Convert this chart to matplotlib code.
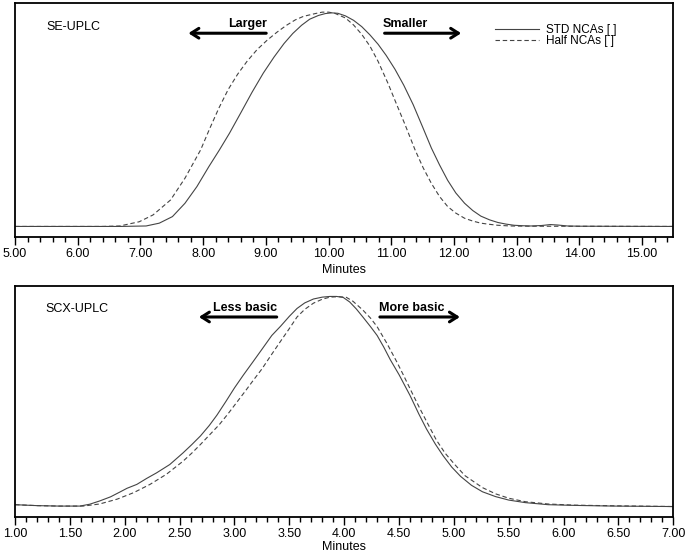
import matplotlib
matplotlib.use("Agg")
import matplotlib.pyplot as plt
from matplotlib.ticker import MultipleLocator, FormatStrFormatter

plt.rcParams['font.family'] = ['Liberation Sans', 'DejaVu Sans']

# SE-UPLC (top panel), signal in % of panel height
se_std_x = [5.0, 6.0, 6.67, 7.09, 7.3, 7.51, 7.71, 7.9, 8.09, 8.26, 8.42, 8.6, 8.78, 8.96,
            9.13, 9.29, 9.43, 9.57, 9.7, 9.84, 9.95, 10.05, 10.15, 10.27, 10.4, 10.53,
            10.66, 10.79, 10.92, 11.06, 11.2, 11.35, 11.5, 11.64, 11.77, 11.9, 12.03,
            12.17, 12.3, 12.43, 12.57, 12.7, 12.83, 12.96, 13.1, 13.23, 13.4, 13.54,
            13.66, 13.81, 14.0, 15.5]
se_std_y = [4.5, 4.5, 4.5, 4.7, 5.9, 8.7, 14.4, 21.5, 30.0, 37.2, 44.3, 53.0, 61.8, 70.0,
            76.8, 82.6, 86.9, 90.4, 93.0, 94.6, 95.4, 95.7, 95.5, 94.4, 92.5, 89.8,
            86.3, 82.3, 77.5, 71.6, 64.8, 56.5, 47.0, 38.0, 30.8, 24.2, 18.8,
            14.4, 11.3, 8.9, 7.3, 6.2, 5.5, 5.0, 4.8, 4.7, 4.9, 5.3,
            5.1, 4.7, 4.6, 4.5]
se_half_x = [5.0, 6.0, 6.4, 6.67, 6.98, 7.2, 7.48, 7.71, 7.96, 8.1, 8.25, 8.4, 8.55, 8.7,
             8.86, 9.02, 9.18, 9.33, 9.47, 9.6, 9.79, 9.9, 10.0, 10.1, 10.27, 10.4, 10.53,
             10.66, 10.79, 10.95, 11.08, 11.22, 11.38, 11.51, 11.64, 11.77, 11.9, 12.03,
             12.17, 12.3, 12.43, 12.57, 12.7, 12.9, 13.2, 15.5]
se_half_y = [4.5, 4.5, 4.5, 4.7, 6.5, 9.4, 15.8, 25.1, 37.2, 46.0, 55.0, 63.0, 69.5, 75.0,
             80.0, 84.0, 87.5, 90.4, 92.7, 94.2, 95.4, 96.0, 96.0, 95.5, 93.5, 90.5, 86.5,
             81.5, 75.0, 65.5, 57.0, 48.0, 37.2, 29.5, 22.9, 17.3, 13.0, 10.2,
             8.0, 6.8, 5.9, 5.4, 5.0, 4.7, 4.6, 4.5]

# SCX-UPLC (bottom panel)
scx_std_x = [1.0, 1.2, 1.4, 1.59, 1.68, 1.77, 1.87, 1.96, 2.02, 2.11, 2.2, 2.29, 2.41, 2.53,
             2.61, 2.69, 2.77, 2.84, 2.92, 3.0, 3.08, 3.17, 3.25, 3.34, 3.42, 3.5, 3.57,
             3.64, 3.72, 3.8, 3.87, 3.93, 3.99, 4.05, 4.11, 4.17, 4.24, 4.3, 4.36, 4.42,
             4.5, 4.6, 4.68, 4.75, 4.83, 4.9, 4.98, 5.06, 5.16, 5.26, 5.38, 5.5, 5.65,
             5.86, 6.1, 6.46, 7.0]
scx_std_y = [5.2, 4.8, 4.6, 4.6, 5.4, 6.8, 8.6, 10.8, 12.3, 14.0, 16.6, 19.0, 22.6, 27.6,
             31.2, 35.0, 39.5, 44.0, 49.8, 55.8, 61.3, 67.2, 72.5, 78.5, 82.5, 86.8, 90.2,
             92.6, 94.3, 95.1, 95.4, 95.4, 95.0, 93.0, 90.0, 86.5, 82.3, 78.5, 73.5, 68.0,
             61.5, 52.5, 44.5, 38.0, 31.5, 26.5, 21.5, 17.5, 13.6, 10.8, 8.7, 7.2, 6.1,
             5.2, 4.9, 4.6, 4.4]
scx_half_x = [1.0, 1.2, 1.4, 1.62, 1.77, 1.93, 2.08, 2.23, 2.38, 2.53, 2.61, 2.69, 2.77,
              2.86, 2.94, 3.02, 3.1, 3.17, 3.25, 3.32, 3.42, 3.5, 3.57, 3.64, 3.72, 3.8,
              3.87, 3.95, 4.02, 4.08, 4.17, 4.24, 4.3, 4.39, 4.48, 4.54, 4.62, 4.69, 4.77,
              4.84, 4.92, 5.0, 5.1, 5.26, 5.38, 5.5, 5.65, 5.86, 6.1, 6.5, 7.0]
scx_half_y = [5.2, 4.8, 4.6, 4.6, 5.5, 7.6, 10.4, 14.0, 18.4, 24.0, 27.5, 31.3, 35.3,
              39.8, 44.5, 49.5, 54.5, 59.0, 64.0, 69.0, 76.0, 81.5, 86.5, 89.8, 92.5, 94.2,
              95.1, 95.3, 95.0, 93.3, 89.5, 86.0, 82.3, 75.0, 67.0, 61.3, 53.5, 46.8, 39.5,
              33.2, 27.5, 23.0, 17.8, 12.6, 9.9, 8.0, 6.5, 5.5, 5.0, 4.7, 4.4]

fig = plt.figure(figsize=(6.85, 5.55), dpi=100)
ax1 = fig.add_axes([0.022, 0.573, 0.961, 0.422])
ax2 = fig.add_axes([0.022, 0.069, 0.961, 0.416])

line_kw = dict(color='#444444', lw=0.8)
ax1.plot(se_std_x, se_std_y, ls='-', label='STD NCAs [ ]', **line_kw)
ax1.plot(se_half_x, se_half_y, ls=(0, (4, 2.5)), label='Half NCAs [ ]', **line_kw)
ax2.plot(scx_std_x, scx_std_y, ls='-', **line_kw)
ax2.plot(scx_half_x, scx_half_y, ls=(0, (4, 2.5)), **line_kw)

ax1.set_xlim(5.0, 15.5)
ax2.set_xlim(1.0, 7.0)
for ax, major, minor, lpad in [(ax1, 1.0, 0.2, 3), (ax2, 0.5, 0.1, 1)]:
    ax.set_ylim(0, 100)
    ax.set_yticks([])
    ax.xaxis.set_major_locator(MultipleLocator(major))
    ax.xaxis.set_minor_locator(MultipleLocator(minor))
    ax.xaxis.set_major_formatter(FormatStrFormatter('%.2f'))
    ax.tick_params(axis='x', which='major', direction='out', length=6, width=1.0,
                   labelsize=9, pad=2)
    ax.tick_params(axis='x', which='minor', direction='out', length=3.5, width=1.0)
    for s in ax.spines.values():
        s.set_linewidth(1.3)
    ax.set_xlabel('Minutes', fontsize=9, labelpad=lpad)

arrow_kw = dict(arrowstyle='->, head_width=0.35, head_length=0.55', lw=2.2, color='black')

ax1.text(0.047, 0.895, 'SE-UPLC', transform=ax1.transAxes, fontsize=9, va='center')
ax1.text(9.02, 90.8, 'Larger', fontsize=9, fontweight='bold', ha='right', va='center')
ax1.annotate('', xy=(7.72, 87.0), xytext=(9.05, 87.0), arrowprops=arrow_kw)
ax1.text(10.87, 90.8, 'Smaller', fontsize=9, fontweight='bold', ha='left', va='center')
ax1.annotate('', xy=(12.16, 87.0), xytext=(10.85, 87.0), arrowprops=arrow_kw)
ax1.legend(loc='upper left', bbox_to_anchor=(0.72, 0.935), frameon=False, fontsize=8.5,
           handlelength=3.7, handletextpad=0.6, labelspacing=-0.05, borderpad=0)

ax2.text(0.046, 0.9, 'SCX-UPLC', transform=ax2.transAxes, fontsize=9, va='center')
ax2.text(3.39, 90.5, 'Less basic', fontsize=9, fontweight='bold', ha='right', va='center')
ax2.annotate('', xy=(2.65, 86.5), xytext=(3.41, 86.5), arrowprops=arrow_kw)
ax2.text(4.32, 90.5, 'More basic', fontsize=9, fontweight='bold', ha='left', va='center')
ax2.annotate('', xy=(5.08, 86.5), xytext=(4.30, 86.5), arrowprops=arrow_kw)

fig.savefig('out.png', dpi=100)
